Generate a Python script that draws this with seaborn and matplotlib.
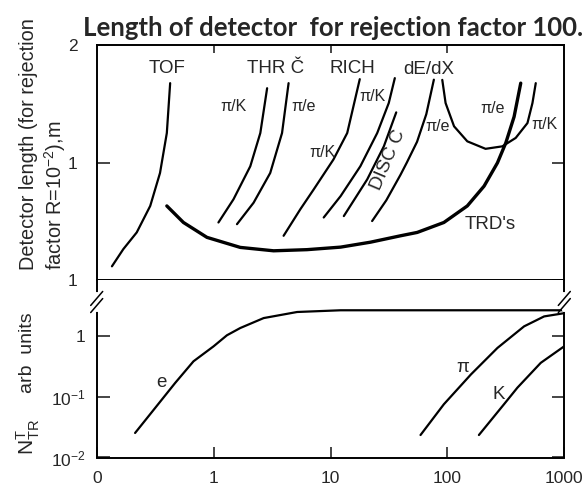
import matplotlib
matplotlib.use("Agg")
import matplotlib.pyplot as plt
import seaborn as sns
import numpy as np

# ---------------- data ----------------
# upper panel: detector length (m) vs momentum (GeV/c)
tof_x = [0.135, 0.169, 0.220, 0.287, 0.348, 0.398, 0.425]
tof_y = [0.542, 0.600, 0.662, 0.774, 0.940, 1.190, 1.597]

thr_pik_x = [1.10, 1.48, 2.06, 2.51, 2.87]
thr_pik_y = [0.702, 0.805, 0.978, 1.19, 1.55]

thr_pie_x = [1.585, 2.20, 3.05, 3.85, 4.38]
thr_pie_y = [0.695, 0.789, 0.940, 1.19, 1.597]

rich1_x = [3.97, 5.52, 7.18, 10.6, 13.9, 17.8]
rich1_y = [0.649, 0.759, 0.853, 1.018, 1.19, 1.635]

rich2_x = [8.75, 12.2, 18.0, 25.1, 31.5, 35.5]
rich2_y = [0.723, 0.820, 0.978, 1.19, 1.42, 1.645]

disc_x = [13.0, 20.6, 28.6, 36.5]
disc_y = [0.729, 0.905, 1.10, 1.344]

dedx_pie_x = [22.7, 30.0, 39.7, 45.0, 55.0, 66.0, 76.6]
dedx_pie_y = [0.708, 0.80, 0.93, 1.00, 1.13, 1.33, 1.63]

dedx_pik_x = [90.4, 96.5, 114, 148, 212, 295, 384, 484, 534, 570]
dedx_pik_y = [1.628, 1.42, 1.238, 1.133, 1.084, 1.10, 1.156, 1.262, 1.42, 1.597]

trd_x = [0.398, 0.552, 0.877, 1.69, 3.26, 6.29, 12.2, 22.0, 39.7, 55.2, 93.3,
         148, 206, 268, 316, 372, 424]
trd_y = [0.774, 0.702, 0.643, 0.606, 0.594, 0.598, 0.607, 0.625, 0.649, 0.662,
         0.702, 0.774, 0.870, 0.998, 1.123, 1.31, 1.597]

# lower panel: N_TR (arb units) vs momentum
e_x = [0.213, 0.316, 0.469, 0.673, 1.0, 1.30, 1.69, 2.68, 5.18, 12.2, 1000]
e_y = [0.0254, 0.0656, 0.170, 0.387, 0.684, 1.04, 1.37, 2.0, 2.52, 2.69, 2.69]

pi_x = [58.9, 93.3, 159, 268, 453, 672, 1000]
pi_y = [0.0235, 0.0757, 0.235, 0.643, 1.46, 2.13, 2.41]

k_x = [186, 305, 397, 629, 1000]
k_y = [0.0235, 0.0757, 0.142, 0.365, 0.686]

x_ticks = [0.1, 1, 10, 100, 1000]
x_ticklabels = ["0", "1", "10", "100", "1000"]
top_yticks = [0.5, 1, 2]
top_yticklabels = ["1", "1", "2"]
bot_yticks = [0.01, 0.1, 1]
bot_yticklabels = ["$10^{-2}$", "$10^{-1}$", "1"]

# ---------------- style ----------------
sns.set_style("white")
plt.rcParams["font.family"] = ["Liberation Sans", "DejaVu Sans"]
plt.rcParams["mathtext.default"] = "regular"

W, H = 587, 486
fig = plt.figure(figsize=(W / 100, H / 100), dpi=100)

left, right = 96.7 / W, 564.3 / W
y_top, y_mid, y_bot = 45 / H, 280 / H, 457.5 / H
ax1 = fig.add_axes([left, 1 - y_mid, right - left, y_mid - y_top])
ax2 = fig.add_axes([left, 1 - y_bot, right - left, y_bot - y_mid])

for ax in (ax1, ax2):
    ax.set_xscale("log")
    ax.set_yscale("log")
    ax.set_xlim(0.1, 1000)
    for s in ax.spines.values():
        s.set_linewidth(1.4)
        s.set_color("black")
    ax.minorticks_off()
    ax.set_facecolor("white")

ax1.set_ylim(0.5, 2)
ax2.set_ylim(0.01, 8.5)
ax2.spines["top"].set_visible(False)

lw = 1.6
kw = dict(color="black", sort=False, estimator=None, legend=False)
for xs, ys in [(tof_x, tof_y), (thr_pik_x, thr_pik_y), (thr_pie_x, thr_pie_y),
               (rich1_x, rich1_y), (rich2_x, rich2_y), (disc_x, disc_y),
               (dedx_pie_x, dedx_pie_y), (dedx_pik_x, dedx_pik_y)]:
    sns.lineplot(x=xs, y=ys, ax=ax1, linewidth=lw, **kw)
sns.lineplot(x=trd_x, y=trd_y, ax=ax1, linewidth=2.4, **kw)

for xs, ys in [(e_x, e_y), (pi_x, pi_y), (k_x, k_y)]:
    sns.lineplot(x=xs, y=ys, ax=ax2, linewidth=lw, **kw)

# ticks
ax1.set_xticks([1, 10, 100])
ax1.set_xticklabels([])
ax1.tick_params(axis="x", which="both", direction="in", top=True, bottom=False,
                labeltop=False, labelbottom=False, length=6, width=1.2)
ax1.set_yticks(top_yticks)
ax1.set_yticklabels(top_yticklabels)
ax1.tick_params(axis="y", which="both", direction="in", left=True, right=True,
                length=9, width=1.2, labelsize=12.5, pad=14)

ax2.set_xticks(x_ticks)
ax2.set_xticklabels(x_ticklabels)
ax2.tick_params(axis="x", which="both", direction="in", bottom=True, top=False,
                length=8, width=1.2, labelsize=12.5, pad=10)
ax2.set_yticks(bot_yticks)
ax2.set_yticklabels(bot_yticklabels)
ax2.tick_params(axis="y", which="both", direction="in", left=True, right=True,
                length=9, width=1.2, labelsize=12.5, pad=8)
ax1.set_xlabel("")
ax1.set_ylabel("")
ax2.set_xlabel("")
ax2.set_ylabel("")

# curve labels (upper panel)
t13 = dict(fontsize=13.5, ha="center", va="center")
t11 = dict(fontsize=11.5, ha="center", va="center")
ax1.text(0.398, 1.744, "TOF", **t13)
ax1.text(3.37, 1.744, "THR Č", **t13)
ax1.text(15.3, 1.744, "RICH", **t13)
ax1.text(69.3, 1.727, "dE/dX", **t13)
ax1.text(1.48, 1.39, "π/K", **t11)
ax1.text(5.89, 1.39, "π/e", **t11)
ax1.text(8.47, 1.059, "π/K", **t11)
ax1.text(22.7, 1.476, "π/K", **t11)
ax1.text(31.5, 1.018, "DISC C", rotation=67, **t13)
ax1.text(81.8, 1.238, "π/e", **t11)
ax1.text(243, 1.379, "π/e", **t11)
ax1.text(672, 1.25, "π/K", **t11)
ax1.text(234, 0.695, "TRD's", **t13)

# curve labels (lower panel)
ax2.text(0.36, 0.17, "e", **t13)
ax2.text(134, 0.30, "π", **t13)
ax2.text(276, 0.109, "K", **t13)

# axis break marks on the lower panel
yb = (457.5 - 302) / (457.5 - 280)
dx, dy = 6 / 467.6, 7 / 177.5
for xa in (0, 1):
    ax2.plot([xa, xa], [yb - 0.045, yb + 0.045], color="white", lw=3,
             transform=ax2.transAxes, clip_on=False, zorder=5)
    for off in (-0.02, 0.02):
        ax2.plot([xa - dx, xa + dx], [yb + off - dy, yb + off + dy], color="black",
                 lw=1.1, transform=ax2.transAxes, clip_on=False, zorder=6)

# titles / axis labels
fig.text(333 / W, 1 - 28 / H, "Length of detector  for rejection factor 100.",
         ha="center", va="center", fontsize=18.5, fontweight="bold",
         family=["Lato", "DejaVu Sans"])
fig.text(28 / W, 1 - 270 / H, "Detector length (for rejection", rotation=90,
         rotation_mode="anchor", ha="left", va="center", fontsize=14.3)
fig.text(55 / W, 1 - 270 / H, "factor R=$10^{-2}$),m", rotation=90,
         rotation_mode="anchor", ha="left", va="center", fontsize=14.3)
fig.text(28 / W, 1 - 353 / H, "arb  units", rotation=90,
         ha="center", va="center", fontsize=14)
fig.text(28 / W, 1 - 437 / H, "$N_{TR}^{T}$", rotation=90,
         ha="center", va="center", fontsize=15)

fig.savefig("out.png", dpi=100, facecolor="white")
